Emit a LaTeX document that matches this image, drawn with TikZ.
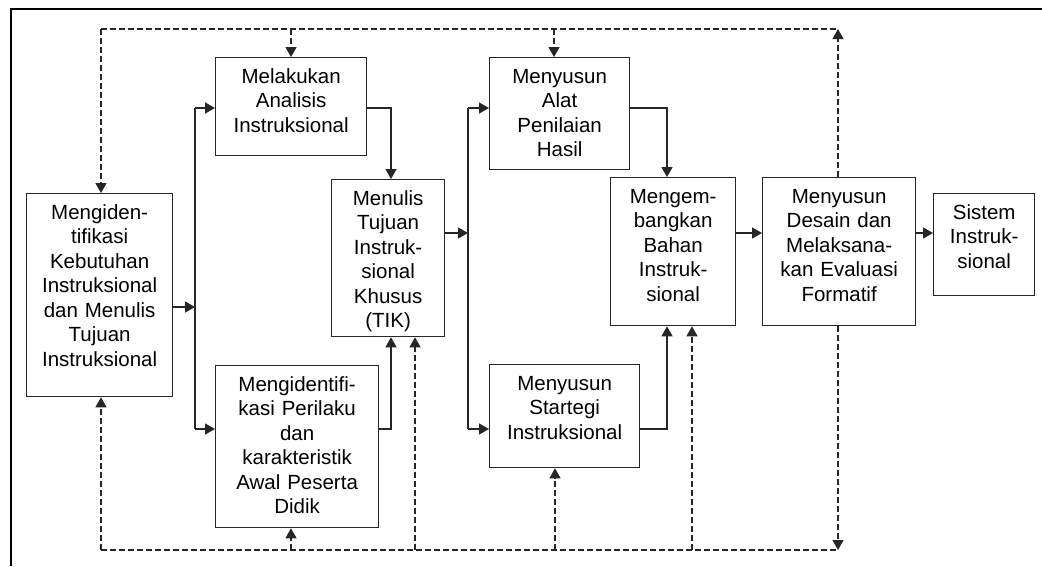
\documentclass[tikz,border=0pt]{standalone}
\usepackage{fontspec}
\setmainfont{Liberation Sans}
\usetikzlibrary{arrows.meta}
\usetikzlibrary{calc}

\tikzset{
  kotak/.style n args={2}{draw=black!85, line width=1.3pt, inner sep=0pt,
    text width=#1, text height=25.5pt, text depth=#2-25.5pt, align=center,
    anchor=north west, font=\fontsize{20.5pt}{24.5pt}\selectfont},
  garis/.style={draw=black!85, line width=1.3pt},
  panah/.style={garis, -{Triangle[length=10pt,width=11pt]}},
  putus/.style={garis, dash pattern=on 6pt off 3pt},
  putuspanah/.style={putus, -{Triangle[length=10pt,width=11pt]}}
}

\begin{document}
\begin{tikzpicture}[x=1pt,y=-1pt]
        \useasboundingbox (0,0) rectangle (1042,566);
        \draw[black, line width=1.6pt] (11,566) -- (11,9) -- (1042,9);

        \node[kotak={146pt}{203pt}] (ident) at (26,193) {Mengiden-\\tifikasi\\Kebutuhan\\Instruksional\\dan Menulis\\Tujuan\\Instruksional};
        \node[kotak={151pt}{98pt}] (analisis) at (215,57) {Melakukan\\Analisis\\Instruksional};
        \node[kotak={113pt}{157pt}] (tik) at (331,179) {Menulis\\Tujuan\\Instruk-\\sional\\Khusus\\(TIK)};
        \node[kotak={163pt}{162pt}] (perilaku) at (215,365) {Mengidentifi-\\kasi Perilaku\\dan\\karakteristik\\Awal Peserta\\Didik};
        \node[kotak={140pt}{112pt}] (alat) at (489,57) {Menyusun\\Alat\\Penilaian\\Hasil};
        \node[kotak={150pt}{103pt}] (strategi) at (489,364) {Menyusun\\Startegi\\Instruksional};
        \node[kotak={125pt}{148pt}] (bahan) at (610,177) {Mengem-\\bangkan\\Bahan\\Instruk-\\sional};
        \node[kotak={153pt}{148pt}] (evaluasi) at (762,177) {Menyusun\\Desain dan\\Melaksana-\\kan Evaluasi\\Formatif};
        \node[kotak={101pt}{102pt}] (sistem) at (933,193) {Sistem\\Instruk-\\sional};

        \coordinate (a0) at (195,307);
        \coordinate (a1) at (195,108);
        \coordinate (a2) at (195,429);
        \coordinate (c1) at (391,108);
        \coordinate (c2) at (391,429);
        \coordinate (k0) at (468,233);
        \coordinate (k1) at (468,108);
        \coordinate (k2) at (468,429);
        \coordinate (f1) at (667,108);
        \coordinate (f2) at (667,429);

        \draw[panah] (ident.east |- a0) -- (a0);
        \draw[garis] (a1) -- (a2);
        \draw[panah] (a1) -- (analisis.west |- a1);
        \draw[panah] (a2) -- (perilaku.west |- a2);
        \draw[panah] (analisis.east |- c1) -- (c1) -- (c1 |- tik.north);
        \draw[panah] (perilaku.east |- c2) -- (c2) -- (c2 |- tik.south);
        \draw[panah] (tik.east |- k0) -- (k0);
        \draw[garis] (k1) -- (k2);
        \draw[panah] (k1) -- (alat.west |- k1);
        \draw[panah] (k2) -- (strategi.west |- k2);
        \draw[panah] (alat.east |- f1) -- (f1) -- (f1 |- bahan.north);
        \draw[panah] (strategi.east |- f2) -- (f2) -- (f2 |- bahan.south);
        \draw[panah] (bahan.east |- k0) -- (evaluasi.west |- k0);
        \draw[panah] (evaluasi.east |- k0) -- (sistem.west |- k0);

        \coordinate (t1) at (101,29);
        \coordinate (t2) at (291,29);
        \coordinate (t3) at (554,29);
        \coordinate (t4) at (838,29);
        \coordinate (b1) at (101,550);
        \coordinate (b2) at (291,550);
        \coordinate (b3) at (415,550);
        \coordinate (b4) at (555,550);
        \coordinate (b5) at (692,550);
        \coordinate (b6) at (838,550);

        \draw[putus] (t1) -- (t4);
        \draw[putus] (b1) -- (b6);
        \draw[putuspanah] (t1) -- (t1 |- ident.north);
        \draw[putuspanah] (t2) -- (t2 |- analisis.north);
        \draw[putuspanah] (t3) -- (t3 |- alat.north);
        \draw[putuspanah] (t4 |- evaluasi.north) -- (t4);
        \draw[putuspanah] (b1) -- (b1 |- ident.south);
        \draw[putuspanah] (b2) -- (b2 |- perilaku.south);
        \draw[putuspanah] (b3) -- (b3 |- tik.south);
        \draw[putuspanah] (b4) -- (b4 |- strategi.south);
        \draw[putuspanah] (b5) -- (b5 |- bahan.south);
        \draw[putuspanah] (b6 |- evaluasi.south) -- (b6);
    \end{tikzpicture}
\end{document}
